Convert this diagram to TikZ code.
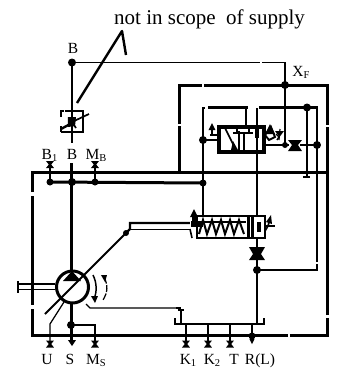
\documentclass[tikz,border=0pt]{standalone}
\usepackage{fontspec}
\setmainfont{Liberation Serif}
\usetikzlibrary{arrows.meta}
\tikzset{
  x=1pt,y=-1pt,
  hv/.style={line width=3pt},
  med/.style={line width=2.2pt},
  thn/.style={line width=1.25pt},
  lbl/.style={inner sep=0pt,anchor=base,font=\fontsize{15.5}{17}\selectfont},
  dotn/.style={circle,fill=black,inner sep=0pt,minimum size=#1},
  dotn/.default=6pt
}
\newcommand{\btie}[2]{\fill (#1-4,#2-3.5) -- (#1+4,#2-3.5) -- (#1+1.2,#2) -- (#1+4,#2+3.5) -- (#1-4,#2+3.5) -- (#1-1.2,#2) -- cycle;}
\newcommand{\lsub}[1]{\raisebox{-2.5pt}{\fontsize{10.5}{11}\selectfont #1}}
\begin{document}
\begin{tikzpicture}
\useasboundingbox (0,0) rectangle (342,368);
% frames
\draw[hv] (33,192) -- (33,172) -- (328,172);
\draw[hv] (33,196) -- (33,305);
\draw[hv] (33,309) -- (33,335) -- (288,335);
\draw[hv] (290,335) -- (328,335) -- (328,318);
\draw[hv] (328,315) -- (328,172);
\draw[hv] (180,172) -- (180,126);
\draw[hv] (180,124) -- (180,85) -- (202,85);
\draw[hv] (204,85) -- (328,85) -- (328,125);
\draw[hv] (328,127) -- (328,172);
% top pilot line
\node[dotn=8pt] (bdot) at (72,62.5) {};
\node[dotn=8pt] (xdot) at (285,85) {};
\node[dotn=6pt] (xj) at (285,145) {};
\draw[thn] (bdot.center) -- (260,62.5);
\draw[thn] (262,62.5) -- (285,62.5) -- (xdot.center) -- (xj.center);
\draw[med] (72,62.5) -- (72,143);
% leader
\draw[line width=2.4pt,line join=round] (77,103) -- (122,31) -- (126,55);
% pilot valve
\draw[thn,line cap=butt] (65,111) -- (83,111) -- (83,132) -- (61,132);
\draw[med] (61,117) -- (61,111) -- (64,111);
\draw[med] (61,132) -- (61,126);
\draw[line width=2.4pt] (61,129) -- (72,123) -- (72,117);
\draw[line width=1.7pt] (72,122) -- (89,114);
\fill (68,117) -- (76,117) -- (75,126) -- (68,127) -- cycle;
\draw[line width=1.7pt] (69,118) -- (76,128);
% port lines top of main
\btie{50}{164.5}\btie{95}{164.5}
\node[dotn=7pt] (b1j) at (50,182) {};
\node[dotn=8pt] (bj) at (72,182) {};
\node[dotn=7pt] (mbj) at (95,182) {};
\node[dotn=7pt] (vj) at (203,183) {};
\draw[thn] (50,165) -- (b1j.center);
\draw[med] (95,165) -- (mbj.center);
\draw[hv] (b1j.center) -- (vj.center);
\draw[hv] (72,163) -- (72,270);
% pump
\node[draw,circle,line width=3pt,minimum size=32pt,inner sep=0pt] (pump) at (72.5,287) {};
\fill (72,271) -- (63,281) -- (81,281) -- cycle;
\draw[line width=1.8pt] (45,314) -- (126,233);
\node[dotn=6pt] (pj) at (126,233) {};
\draw[med] (126,233) -- (130,229) -- (130,223) -- (190,223);
\draw[thn] (130,229.5) -- (190,229.5);
% shaft
\draw[thn] (18,284) -- (55,284);
\draw[thn] (18,289.5) -- (55,289.5);
\draw[med] (18,281) -- (18,293);
% curved arrows
\draw[line width=1.5pt] (93,275) .. controls (97,283) and (97,292) .. (94,299);
\fill (91,296) -- (98,296) -- (95,303) -- cycle;
\draw[thn,dash pattern=on 7pt off 1.5pt] (104,277) .. controls (108,285) and (108,292) .. (103,300);
\fill (101,275) -- (107,275) -- (105,282) -- cycle;
% pump lower
\draw[hv] (72,303) -- (72,340);
\node[dotn=8pt] (sj) at (71,325) {};
\draw[thn] (sj.center) -- (95,325) -- (95,344);
\fill (68,340) -- (76,340) -- (72,346) -- cycle;
\btie{50}{344}\btie{95}{344}
\draw[thn] (50,344) -- (50,324) -- (64,302);
\draw[thn] (86,304) -- (90,308) -- (178,308);
\draw[thn] (176,308) -- (181,308);
\draw[thn] (181,310) -- (181,323);
\draw[thn] (178,310) -- (184,310);
% bus
\draw[med] (175,318) -- (175,324) -- (264,324) -- (264,318);
\draw[thn] (186,324) -- (186,344);
\draw[thn] (208,324) -- (208,344);
\draw[thn] (230,324) -- (230,344);
\draw[thn] (252,324) -- (252,340);
\btie{186}{344}\btie{208}{344}\btie{230}{344}
\node[dotn=7pt] (rj) at (252,336) {};
\fill (249.5,339) -- (254.5,339) -- (252,344) -- cycle;
% main vertical right
\node[dotn=8pt] (rv) at (257,270) {};
\draw[med] (257,108) -- (257,216);
\draw[med] (257,238) -- (257,324);
\fill (249,247) -- (265,247) -- (261,254) -- (265,260) -- (249,260) -- (253,254) -- cycle;
\draw[thn] (rv.center) -- (317,270) -- (317,264);
\draw[thn] (317,262) -- (317,145);
% upper lines
\node[dotn=8pt] (rt) at (307,107.5) {};
\node[dotn=8pt] (rd) at (317,145) {};
\draw[med] (259,107.5) -- (317,107.5) -- (317,113);
\draw[med] (307,108) -- (307,177);
\draw[med] (303,177) -- (310,177);
\draw[thn] (317,113) -- (317,145);
\draw[med] (203,112) -- (203,108) -- (205,108);
\draw[med] (208,107.5) -- (248,107.5);
\draw[thn] (246,108) -- (246,127);
\draw[thn] (203,108) -- (203,140);
\node[dotn=8pt] (vl) at (203,140) {};
\draw[thn] (vl.center) -- (vj.center) -- (203,217);
\draw[thn] (vl.center) -- (219,140);
\draw[thn] (210,135) -- (219,135);
\draw[thn] (212,130) -- (212,135);
\fill (212,123) -- (208.5,130) -- (215.5,130) -- cycle;
% upper valve
\draw[line width=3.4pt] (219,127) rectangle (264,152);
\draw[med] (239,131) -- (239,152);
\draw[line width=1.6pt] (225,128) -- (236,150);
\fill (231,150) -- (238,150) -- (233,141) -- cycle;
\draw[med] (233,133) -- (253,133);
\draw[thn] (244,133) -- (244,152);
\draw[thn] (237,129) -- (237,133);
\draw[thn] (249,129) -- (249,133);
\fill (255,129) rectangle (259,138);
% upper right pilot & valve
\draw[thn] (264,145) -- (xj.center);
\draw[med] (xj.center) -- (289,145);
\draw[thn] (rd.center) -- (300,145);
\fill (288,140) -- (302,140) -- (298,145) -- (302,151) -- (288,151) -- (292,145) -- cycle;
\draw[line width=1.9pt] (265,135) -- (271,127) -- (275,137) -- (269,140) -- cycle;
\fill (270,124) -- (265,134) -- (275,134) -- cycle;
\draw[line width=1.4pt] (276,134) -- (279,137) -- (277,140);
\draw[line width=1.2pt] (280,129) -- (279,140);
\fill (275,131) -- (284,131) -- (279.5,137) -- cycle;
% lower valve
\draw[line width=2.8pt] (197,216) -- (265,216) -- (265,238) -- (197,238) -- cycle;
\draw[hv] (249,217) -- (249,238);
\draw[med] (252.5,217) -- (252.5,238);
\draw[line width=2pt] (199,234) -- (203,220) -- (207,234) -- (212,220) -- (216,234) -- (221,220) -- (225,234) -- (230,220) -- (234,234) -- (239,220) -- (244,234);
\draw[line width=1.6pt] (199,222) -- (246,222);
\fill (191,227) rectangle (203,221);
\fill (194,209) -- (190,217) -- (198,217) -- cycle;
\fill (192,216) rectangle (198,222);
\draw[line width=1.6pt] (190,229) -- (192,238);
\fill (257,222) rectangle (261,232);
\draw[thn] (265,226) -- (275,226);
\draw[line width=1.7pt] (265,231) -- (268,226) -- (270,219);
\fill (271,215) -- (266,222) -- (272,224) -- cycle;
% labels
\node[lbl,font=\fontsize{21}{23}\selectfont,anchor=base west] (title) at (114,24) {not in scope\ \ of supply};
\node[lbl] (lb) at (73,53) {B};
\node[lbl] (lb1) at (49.5,159) {B\lsub{1}};
\node[lbl] (lb2) at (72,159) {B};
\node[lbl] (lmb) at (96,159) {M\lsub{B}};
\node[lbl] (lxf) at (301,76) {X\lsub{F}};
\node[lbl] (lu) at (47,364) {U};
\node[lbl] (ls) at (70,364) {S};
\node[lbl] (lms) at (96,364) {M\lsub{S}};
\node[lbl] (lk1) at (188,364) {K\lsub{1}};
\node[lbl] (lk2) at (212,364) {K\lsub{2}};
\node[lbl] (lt) at (234,364) {T};
\node[lbl] (lr) at (260,364) {R(L)};
\end{tikzpicture}
\end{document}
